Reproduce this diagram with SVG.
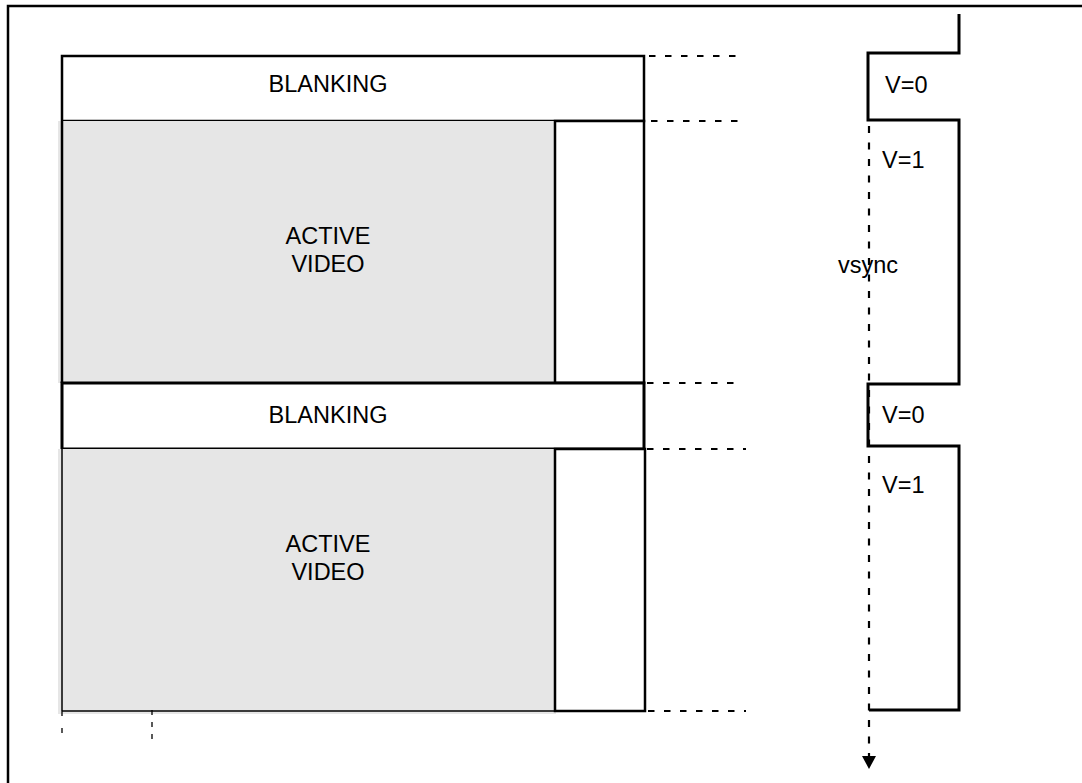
<svg xmlns="http://www.w3.org/2000/svg" width="1082" height="783" viewBox="0 0 1082 783">
<style>
  .box { fill: #ffffff; stroke: #000; stroke-width: 2.5; }
  .active { fill: #e6e6e6; stroke: none; }
  .solid { fill: none; stroke: #000; stroke-width: 2.5; }
  .thin { fill: none; stroke: #000; stroke-width: 1.5; }
  .dash { fill: none; stroke: #000; stroke-width: 2.2; stroke-dasharray: 6.5 9.5; }
  .vsig { fill: none; stroke: #000; stroke-width: 3; }
  .vsync { fill: none; stroke: #000; stroke-width: 2.2; stroke-dasharray: 7 9.5; }
  text { font-family: "Liberation Sans", Arial, sans-serif; font-size: 23.5px; fill: #000; }
  .mid { text-anchor: middle; }
</style>
<defs>
  <marker id="arrow" markerWidth="13" markerHeight="14" refX="13" refY="7" orient="auto" markerUnits="userSpaceOnUse" viewBox="0 0 13 14">
    <polygon points="0,0 13,7 0,14" fill="#000"/>
  </marker>
</defs>
<rect width="1082" height="783" fill="#fff"/>
<g id="frame">
  <path class="solid" d="M8,783 V6 H1082"/>
</g>
<g id="blanking1">
  <rect class="box" x="62" y="56" width="582" height="65"/>
  <text class="mid" x="328" y="92">BLANKING</text>
</g>
<g id="active1">
  <rect class="active" x="58" y="121" width="497" height="262"/>
  <line class="solid" x1="62" y1="121" x2="62" y2="383"/>
  <rect class="box" x="555" y="121" width="89" height="262"/>
  <text class="mid" x="328" y="244">ACTIVE</text>
  <text class="mid" x="328" y="272">VIDEO</text>
</g>
<g id="blanking2">
  <rect class="box" x="62" y="383" width="582" height="66" style="stroke-width:3"/>
  <text class="mid" x="328" y="423">BLANKING</text>
</g>
<g id="active2">
  <rect class="active" x="58" y="449" width="498" height="265"/>
  <line class="thin" x1="62" y1="449" x2="62" y2="711"/>
  <line class="thin" x1="62" y1="711" x2="555" y2="711"/>
  <rect class="box" x="555" y="449" width="90" height="262"/>
  <text class="mid" x="328" y="552">ACTIVE</text>
  <text class="mid" x="328" y="580">VIDEO</text>
</g>
<g id="connectors">
  <line class="dash" x1="649" y1="56" x2="736" y2="56"/>
  <line class="dash" x1="651" y1="121" x2="741" y2="121"/>
  <line class="dash" x1="647" y1="383" x2="741" y2="383"/>
  <line class="dash" x1="647" y1="449" x2="746" y2="449"/>
  <line class="dash" x1="648" y1="711" x2="746" y2="711"/>
  <line class="dash" x1="62" y1="711" x2="62" y2="735" style="stroke-width:1.3;stroke-dasharray:5 12"/>
  <line class="dash" x1="152" y1="710" x2="152" y2="740" style="stroke-width:1.3;stroke-dasharray:5 7"/>
  <line class="vsync" x1="869" y1="126" x2="869" y2="769" marker-end="url(#arrow)"/>
</g>
<g id="vsync-signal">
  <path class="vsig" d="M959,14 V53 H868 V120 H959 V384 H868 V446 H959 V710 H869"/>
  <text x="885" y="93">V=0</text>
  <text x="882" y="168">V=1</text>
  <text x="838" y="273">vsync</text>
  <text x="882" y="423">V=0</text>
  <text x="882" y="493">V=1</text>
</g>
</svg>
